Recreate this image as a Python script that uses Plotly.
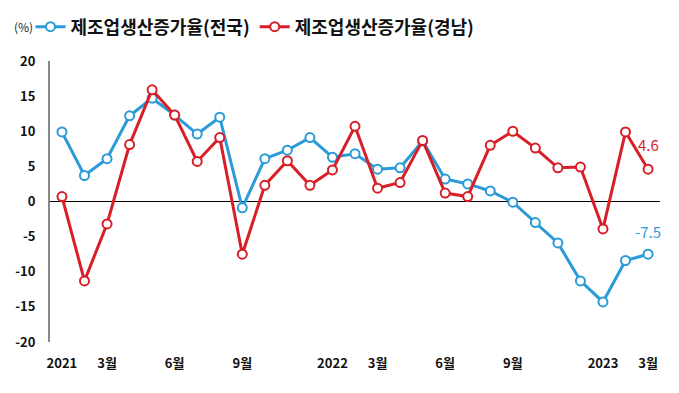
import plotly.graph_objects as go

months = ["2021.01","2021.02","2021.03","2021.04","2021.05","2021.06","2021.07","2021.08","2021.09",
          "2021.10","2021.11","2021.12","2022.01","2022.02","2022.03","2022.04","2022.05","2022.06",
          "2022.07","2022.08","2022.09","2022.10","2022.11","2022.12","2023.01","2023.02","2023.03"]
national = [9.9, 3.7, 6.1, 12.2, 14.7, 12.3, 9.6, 12.0, -0.9, 6.1, 7.3, 9.1, 6.3, 6.8, 4.6, 4.8, 8.6,
            3.2, 2.5, 1.5, -0.1, -3.0, -5.9, -11.3, -14.3, -8.4, -7.5]
gyeongnam = [0.7, -11.3, -3.2, 8.1, 15.9, 12.3, 5.7, 9.1, -7.5, 2.3, 5.8, 2.3, 4.5, 10.7, 1.9, 2.7, 8.7,
             1.2, 0.7, 8.0, 10.0, 7.6, 4.8, 4.9, -3.9, 9.9, 4.6]
tick_months = ["2021.01","2021.03","2021.06","2021.09","2022.01","2022.03","2022.06","2022.09","2023.01","2023.03"]
tick_text = ["2021","3월","6월","9월","2022","3월","6월","9월","2023","3월"]
y_ticks = [20, 15, 10, 5, 0, -5, -10, -15, -20]

FONT = "Noto Sans CJK KR"
BLUE = "#2b9ad8"
RED = "#d81e26"

xidx = list(range(len(months)))
tickvals = [months.index(m) for m in tick_months]

fig = go.Figure()
fig.add_trace(go.Scatter(
    x=xidx, y=national, mode="lines+markers", name="제조업생산증가율(전국)",
    line=dict(color=BLUE, width=3),
    marker=dict(symbol="circle", size=9, color="white", line=dict(color=BLUE, width=2)),
))
fig.add_trace(go.Scatter(
    x=xidx, y=gyeongnam, mode="lines+markers", name="제조업생산증가율(경남)",
    line=dict(color=RED, width=3),
    marker=dict(symbol="circle", size=9, color="white", line=dict(color=RED, width=2)),
))

last = len(months) - 1
fig.add_annotation(x=last, y=gyeongnam[-1], text=f"{gyeongnam[-1]:.1f}", showarrow=False,
                   xanchor="center", yanchor="bottom", yshift=12,
                   font=dict(family=FONT, size=15, color=RED))
fig.add_annotation(x=last, y=national[-1], text=f"{national[-1]:.1f}", showarrow=False,
                   xanchor="center", yanchor="bottom", yshift=10,
                   font=dict(family=FONT, size=15, color=BLUE))
fig.add_annotation(xref="paper", yref="paper", x=-0.024, y=1.121, text="(%)", showarrow=False,
                   xanchor="right", yanchor="middle",
                   font=dict(family=FONT, size=12, color="#222"))

fig.update_layout(
    width=679, height=393,
    margin=dict(l=42, r=27, t=53, b=59, autoexpand=False),
    paper_bgcolor="white", plot_bgcolor="white",
    font=dict(family=FONT, color="#111"),
    showlegend=True,
    legend=dict(orientation="h", x=-0.032, y=1.121, xanchor="left", yanchor="middle",
                font=dict(family=FONT, size=18, color="#111", weight="bold"),
                itemwidth=30, tracegroupgap=0, bgcolor="rgba(0,0,0,0)"),
    xaxis=dict(range=[-0.53, 26.53], tickvals=tickvals, ticktext=tick_text, showgrid=False,
               zeroline=False, showline=False, ticks="",
               tickfont=dict(family=FONT, size=13, color="#111", weight="bold"),
               ticklabelstandoff=12),
    yaxis=dict(range=[-20, 20], tickvals=y_ticks, ticktext=[str(v) for v in y_ticks], showgrid=False,
               zeroline=True, zerolinecolor="black", zerolinewidth=1,
               showline=True, linecolor="#888", linewidth=2, ticks="",
               tickfont=dict(family=FONT, size=13, color="#111", weight="bold"),
               ticklabelstandoff=10),
)

fig.write_html("out.html")
